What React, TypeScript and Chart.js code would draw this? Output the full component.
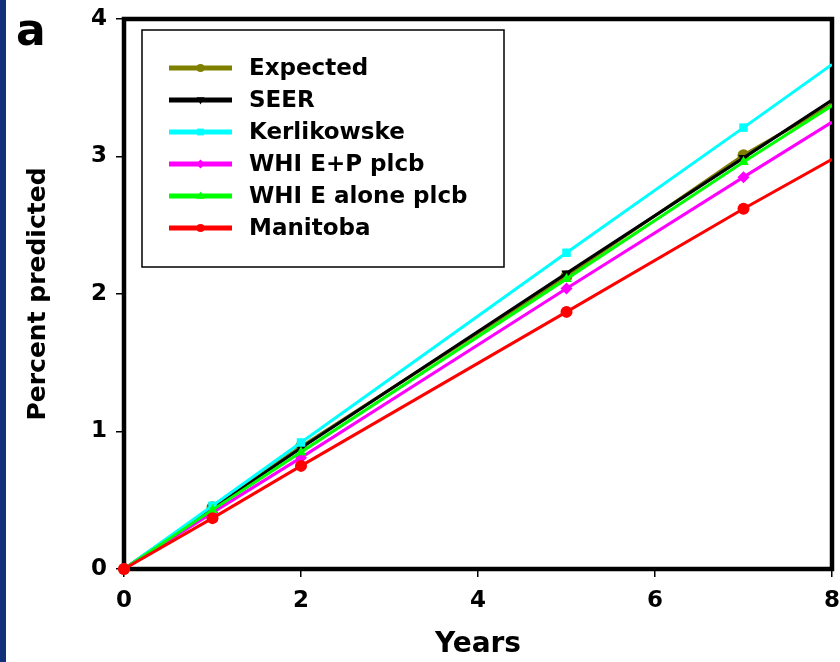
import React, { useEffect, useRef } from "react";
import { Chart, registerables } from "chart.js";

Chart.register(...registerables);

const years = [0, 1, 2, 5, 7, 8];
const seriesNames = ["Expected", "SEER", "Kerlikowske", "WHI E+P plcb", "WHI E alone plcb", "Manitoba"];
const expected = [0, 0.45, 0.89, 2.13, 3.01, 3.38];
const seer = [0, 0.44, 0.88, 2.15, 2.99, 3.41];
const kerlikowske = [0, 0.46, 0.92, 2.30, 3.21, 3.67];
const whiEP = [0, 0.41, 0.81, 2.04, 2.85, 3.25];
const whiEAlone = [0, 0.43, 0.85, 2.11, 2.96, 3.37];
const manitoba = [0, 0.37, 0.75, 1.87, 2.62, 2.98];
const xTicks = [0, 2, 4, 6, 8];
const yTicks = [0, 1, 2, 3, 4];

const seriesValues = [expected, seer, kerlikowske, whiEP, whiEAlone, manitoba];
const seriesColors = ["#808000", "#000000", "#00ffff", "#ff00ff", "#00ff00", "#ff0000"];
const seriesStyles = ["circle", "triangle", "rect", "rectRot", "triangle", "circle"];
const seriesRotation = [0, 180, 0, 0, 0, 0];

const FONT = "'DejaVu Sans', Verdana, sans-serif";

function drawMarker(ctx: CanvasRenderingContext2D, style: string, rot: number, x: number, y: number, r: number, color: string) {
  ctx.save();
  ctx.fillStyle = color;
  ctx.translate(x, y);
  ctx.rotate((rot * Math.PI) / 180);
  ctx.beginPath();
  if (style === "circle") {
    ctx.arc(0, 0, r, 0, Math.PI * 2);
  } else if (style === "rect") {
    ctx.rect(-r * 0.85, -r * 0.85, r * 1.7, r * 1.7);
  } else if (style === "rectRot") {
    ctx.moveTo(0, -r * 1.1);
    ctx.lineTo(r * 1.1, 0);
    ctx.lineTo(0, r * 1.1);
    ctx.lineTo(-r * 1.1, 0);
    ctx.closePath();
  } else if (style === "triangle") {
    ctx.moveTo(0, -r * 1.1);
    ctx.lineTo(r, r * 0.7);
    ctx.lineTo(-r, r * 0.7);
    ctx.closePath();
  }
  ctx.fill();
  ctx.restore();
}

const decorPlugin = {
  id: "decor",
  beforeDraw(chart: any) {
    const ctx = chart.ctx as CanvasRenderingContext2D;
    ctx.save();
    ctx.fillStyle = "#ffffff";
    ctx.fillRect(0, 0, chart.width, chart.height);
    ctx.fillStyle = "#12307a";
    ctx.fillRect(0, 0, 6, chart.height);
    ctx.fillStyle = "#000000";
    ctx.font = `bold 44px ${FONT}`;
    ctx.textAlign = "left";
    ctx.textBaseline = "alphabetic";
    ctx.fillText("a", 16, 45);
    ctx.restore();
  },
  beforeDatasetsDraw(chart: any) {
    const ctx = chart.ctx as CanvasRenderingContext2D;
    const a = chart.chartArea;
    ctx.save();
    ctx.strokeStyle = "#000000";
    ctx.lineWidth = 4.5;
    ctx.strokeRect(a.left, a.top, a.right - a.left, a.bottom - a.top);
    ctx.restore();
  },
  afterDraw(chart: any) {
    const ctx = chart.ctx as CanvasRenderingContext2D;
    ctx.save();
    ctx.strokeStyle = "#000000";
    ctx.lineWidth = 1.5;
    ctx.fillStyle = "#ffffff";
    ctx.fillRect(142, 30, 362, 237);
    ctx.strokeRect(142, 30, 362, 237);
    const lx1 = 169, lx2 = 232, tx = 249, y0 = 68, dy = 32;
    ctx.font = `bold 23px ${FONT}`;
    ctx.textAlign = "left";
    ctx.textBaseline = "middle";
    chart.data.datasets.forEach((ds: any, i: number) => {
      const y = y0 + i * dy;
      ctx.strokeStyle = ds.borderColor;
      ctx.lineWidth = 5;
      ctx.beginPath();
      ctx.moveTo(lx1, y);
      ctx.lineTo(lx2, y);
      ctx.stroke();
      drawMarker(ctx, ds.pointStyle, ds.pointRotation || 0, (lx1 + lx2) / 2, y, 4, ds.borderColor);
      ctx.fillStyle = "#000000";
      ctx.fillText(ds.label, tx, y + 1);
    });
    ctx.restore();
  },
};

export default function App() {
  const canvasRef = useRef<HTMLCanvasElement | null>(null);

  useEffect(() => {
    if (!canvasRef.current) return;
    const lastIndex = years.length - 1;
    const datasets = seriesNames.map((name, i) => ({
      label: name,
      data: years.map((x, j) => ({ x, y: seriesValues[i][j] })),
      borderColor: seriesColors[i],
      backgroundColor: seriesColors[i],
      borderWidth: 3,
      pointStyle: seriesStyles[i],
      pointRotation: seriesRotation[i],
      pointRadius: (c: any) => (c.dataIndex === lastIndex ? 0 : 6),
      pointBorderWidth: 0,
      pointBackgroundColor: seriesColors[i],
      tension: 0,
      clip: { left: 10, bottom: 10, top: 0, right: 0 },
      order: seriesNames.length - i,
    }));

    const chart = new Chart(canvasRef.current, {
      type: "line",
      data: { datasets },
      plugins: [decorPlugin],
      options: {
        responsive: false,
        animation: false,
        devicePixelRatio: 1,
        layout: { padding: { left: 0, top: 19, right: 8, bottom: 0 } },
        plugins: { legend: { display: false }, tooltip: { enabled: false } },
        scales: {
          x: {
            type: "linear",
            min: 0,
            max: 8,
            afterBuildTicks: (scale: any) => {
              scale.ticks = xTicks.map((v) => ({ value: v }));
            },
            afterFit: (scale: any) => {
              scale.height = 93;
              scale.paddingLeft = 0;
              scale.paddingRight = 0;
            },
            ticks: {
              color: "#000000",
              font: { family: FONT, size: 23, weight: "bold" },
              padding: 10,
              maxRotation: 0,
            },
            grid: {
              display: true,
              drawOnChartArea: false,
              drawTicks: true,
              tickLength: 8,
              color: "#000000",
              lineWidth: 1.5,
            },
            border: { display: false },
            title: {
              display: true,
              text: "Years",
              color: "#000000",
              font: { family: FONT, size: 28, weight: "bold" },
              padding: { top: 0, bottom: 0 },
            },
          },
          y: {
            type: "linear",
            min: 0,
            max: 4,
            afterBuildTicks: (scale: any) => {
              scale.ticks = yTicks.map((v) => ({ value: v }));
            },
            afterFit: (scale: any) => {
              scale.width = 124;
              scale.paddingTop = 0;
              scale.paddingBottom = 0;
            },
            ticks: {
              color: "#000000",
              font: { family: FONT, size: 23, weight: "bold" },
              padding: 9,
            },
            grid: {
              display: true,
              drawOnChartArea: false,
              drawTicks: true,
              tickLength: 8,
              color: "#000000",
              lineWidth: 1.5,
            },
            border: { display: false },
            title: {
              display: true,
              text: "Percent predicted",
              color: "#000000",
              font: { family: FONT, size: 25, weight: "bold" },
              padding: { top: 23, bottom: 0 },
            },
          },
        },
      } as any,
    });
    return () => chart.destroy();
  }, []);

  return (
    <div style={{ position: "fixed", left: 0, top: 0, width: 840, height: 662, background: "#ffffff" }}>
      <canvas ref={canvasRef} width={840} height={662} style={{ display: "block", width: 840, height: 662 }} />
    </div>
  );
}
